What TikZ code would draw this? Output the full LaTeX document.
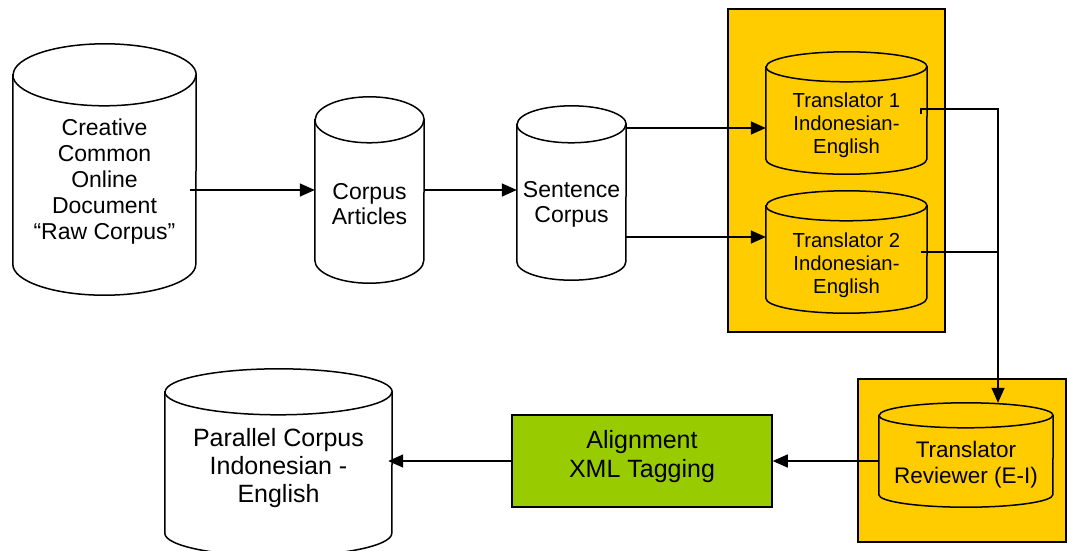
\documentclass[tikz,border=0pt]{standalone}
\usepackage{fontspec}
\setmainfont{Liberation Sans}
\usetikzlibrary{arrows.meta}
\definecolor{groupyellow}{HTML}{FFCC00}
\definecolor{taggreen}{HTML}{99CC00}
% centred lines, raised inside the node without changing its size
\newcommand{\liftlines}[2]{\raisebox{#1}[\height][\depth]{\begin{tabular}{@{}c@{}}#2\end{tabular}}}
% cylinder outline round a store node: node, half width, lid half height, fill
\newcommand{\dbshape}[4]{%
  \draw[line width=1.5pt, fill=#4] ([yshift=-#3pt]#1.north west)
    -- ([yshift=#3pt]#1.south west)
    arc[start angle=180, end angle=360, x radius=#2pt, y radius=#3pt]
    -- ([yshift=-#3pt]#1.north east)
    arc[start angle=0, end angle=180, x radius=#2pt, y radius=#3pt] -- cycle;
  \draw[line width=1.5pt] ([yshift=-#3pt]#1.north west)
    arc[start angle=180, end angle=360, x radius=#2pt, y radius=#3pt];}

\begin{document}
\begin{tikzpicture}[x=1pt,y=-1pt,
  store/.style={inner sep=0pt},
  lbl/.style={align=center, inner sep=0pt},
  grp/.style={draw, line width=1.5pt, fill=groupyellow, inner sep=0pt},
  arr/.style={line width=1.5pt, -{Triangle[length=15pt,width=13pt]}}]
  \useasboundingbox (0,0) rectangle (1067,550);

  % translator groups
  \node[grp, minimum width=217pt, minimum height=323pt] (grpa) at (836.5,170.5) {};
  \node[grp, minimum width=208pt, minimum height=163pt] (grpb) at (962,460.5) {};

  % corpus stores
  \node[store, minimum width=183pt, minimum height=251pt] (raw) at (104.5,169.5) {};
  \node[store, minimum width=109pt, minimum height=186pt] (art) at (369.5,190) {};
  \node[store, minimum width=109pt, minimum height=174pt] (sent) at (571.5,193) {};
  \node[store, minimum width=161pt, minimum height=122pt] (tra) at (846.5,113) {};
  \node[store, minimum width=161pt, minimum height=122pt] (trb) at (846.5,252) {};
  \node[store, minimum width=174pt, minimum height=104pt] (rev) at (966,455) {};
  \node[store, minimum width=227pt, minimum height=187pt] (par) at (278.5,462.5) {};
  \dbshape{raw}{91.5}{31}{white}
  \dbshape{art}{54.5}{23}{white}
  \dbshape{sent}{54.5}{18.5}{white}
  \dbshape{tra}{80.5}{15}{groupyellow}
  \dbshape{trb}{80.5}{15}{groupyellow}
  \dbshape{rev}{87}{12.5}{groupyellow}
  \dbshape{par}{113.5}{23}{white}

  % their labels
  \node[lbl, font=\fontsize{23}{26}\selectfont] (rawtext) at (104.5,182)
    {Creative\\Common\\Online\\Document\\“Raw Corpus”};
  \node[lbl, font=\fontsize{23}{25}\selectfont] (arttext) at (369.5,204) {Corpus\\Articles};
  \node[lbl, font=\fontsize{23}{25}\selectfont] (senttext) at (571.5,204) {Sentence\\Corpus};
  \node[lbl, font=\fontsize{20.3}{23}\selectfont] (tratext) at (846.5,125.5)
    {Translator 1\\Indonesian-\\English};
  \node[lbl, font=\fontsize{20.3}{23}\selectfont] (trbtext) at (846.5,265)
    {Translator 2\\Indonesian-\\English};
  \node[lbl, font=\fontsize{22.5}{26}\selectfont] (revtext) at (966,465)
    {Translator\\Reviewer (E-I)};
  \node[lbl, font=\fontsize{25}{28}\selectfont] (partext) at (278.5,468)
    {Parallel Corpus\\Indonesian -\\English};

  % tagging step
  \node[draw, line width=1.5pt, fill=taggreen, minimum width=260pt, minimum height=92pt,
    inner sep=0pt, font=\fontsize{25}{29}\selectfont] (tag) at (642,461)
    {\liftlines{4pt}{Alignment\\XML Tagging}};

  % flow
  \draw[arr] ([xshift=-6pt]raw.east |- art.west) -- (art.west);
  \draw[arr] (art.east) -- (sent.west |- art.east);
  \draw[arr] ([yshift=-15pt]sent.east |- tra.west) -- ([yshift=-15pt]tra.west);
  \draw[arr] ([yshift=15pt]sent.east |- trb.west) -- ([yshift=15pt]trb.west);
  \draw[arr] ([xshift=-6pt,yshift=-1pt]tra.east) -- ++(0,-5) -| ([xshift=32pt]rev.north);
  \draw[line width=1.5pt] ([xshift=-6pt]trb.east) -- ([xshift=32pt]rev.north |- trb.east);
  \draw[arr] (rev.west |- tag.east) -- (tag.east);
  \draw[arr] (tag.west) -- ([xshift=-4pt]par.east |- tag.west);
\end{tikzpicture}
\end{document}
